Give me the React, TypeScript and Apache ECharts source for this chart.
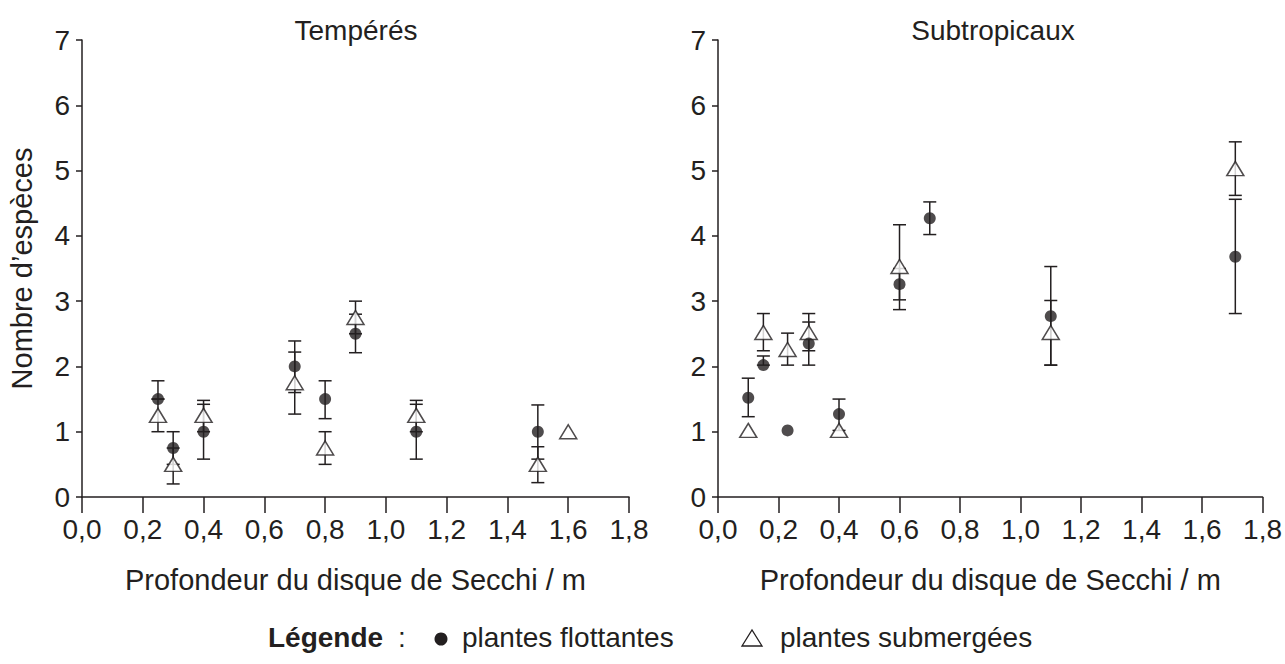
import React, { useEffect, useRef } from "react";
import * as echarts from "echarts";

// ---------- Data ----------
const xTickLabels = ["0,0", "0,2", "0,4", "0,6", "0,8", "1,0", "1,2", "1,4", "1,6", "1,8"];

// Tempérés – plantes flottantes
const tempFloatX = [0.25, 0.3, 0.4, 0.7, 0.8, 0.9, 1.1, 1.5];
const tempFloatY = [1.5, 0.75, 1.0, 2.0, 1.5, 2.5, 1.0, 1.0];
const tempFloatLo = [1.5, 0.5, 0.58, 1.6, 1.2, 2.21, 0.58, 0.58];
const tempFloatHi = [1.78, 1.0, 1.42, 2.39, 1.78, 2.8, 1.42, 1.41];

// Tempérés – plantes submergées
const tempSubX = [0.25, 0.3, 0.4, 0.7, 0.8, 0.9, 1.1, 1.5, 1.6];
const tempSubY = [1.25, 0.5, 1.25, 1.75, 0.75, 2.75, 1.25, 0.5, 1.0];
const tempSubLo = [1.0, 0.2, 1.0, 1.27, 0.5, 2.5, 1.0, 0.22, 1.0];
const tempSubHi = [1.5, 0.75, 1.48, 2.22, 1.0, 3.0, 1.48, 0.77, 1.0];

// Subtropicaux – plantes flottantes
const subFloatX = [0.1, 0.15, 0.23, 0.3, 0.4, 0.6, 0.7, 1.1, 1.71];
const subFloatY = [1.52, 2.02, 1.02, 2.35, 1.27, 3.26, 4.27, 2.77, 3.68];
const subFloatLo = [1.23, 2.02, 1.02, 2.02, 1.02, 3.02, 4.02, 2.02, 2.81];
const subFloatHi = [1.82, 2.16, 1.02, 2.68, 1.5, 3.5, 4.52, 3.53, 4.56];

// Subtropicaux – plantes submergées
const subSubX = [0.1, 0.15, 0.23, 0.3, 0.4, 0.6, 1.1, 1.71];
const subSubY = [1.02, 2.52, 2.26, 2.52, 1.02, 3.53, 2.52, 5.03];
const subSubLo = [1.02, 2.24, 2.02, 2.24, 1.02, 2.87, 2.02, 4.62];
const subSubHi = [1.02, 2.81, 2.51, 2.81, 1.02, 4.17, 3.01, 5.44];

const panelTitles = ["Tempérés", "Subtropicaux"];
const xName = "Profondeur du disque de Secchi / m";
const yName = "Nombre d\u2019espèces";
const legendTitle = "Légende";
const legendLabels = ["plantes flottantes", "plantes submergées"];

// ---------- Styles ----------
const INK = "#231f20";
const FONT = "'Liberation Sans', Arial, Helvetica, sans-serif";
const FS = 28;

const pts = (xs: number[], ys: number[]) => xs.map((x, i) => [x, ys[i]]);
const errs = (xs: number[], lo: number[], hi: number[]) =>
  xs.map((x, i) => [x, lo[i], hi[i]]);

const errorRender = (params: any, api: any) => {
  const x = api.value(0);
  const lo = api.value(1);
  const hi = api.value(2);
  if (lo === hi) return { type: "group", children: [] };
  const pLo = api.coord([x, lo]);
  const pHi = api.coord([x, hi]);
  const hw = 6.5;
  const style = { stroke: INK, lineWidth: 1.5 };
  return {
    type: "group",
    children: [
      { type: "line", shape: { x1: pLo[0], y1: pLo[1], x2: pHi[0], y2: pHi[1] }, style },
      { type: "line", shape: { x1: pLo[0] - hw, y1: pLo[1], x2: pLo[0] + hw, y2: pLo[1] }, style },
      { type: "line", shape: { x1: pHi[0] - hw, y1: pHi[1], x2: pHi[0] + hw, y2: pHi[1] }, style },
    ],
  };
};

export default function App() {
  const ref = useRef<HTMLDivElement>(null);

  useEffect(() => {
    if (!ref.current) return;
    const chart = echarts.init(ref.current, null, { renderer: "svg" });

    const grids = [
      { left: 82, top: 40, width: 547, height: 457 },
      { left: 718, top: 40, width: 550, height: 457 },
    ];

    const xAxisBase = (gi: number) => ({
      gridIndex: gi,
      type: "value",
      min: 0,
      max: 1.8,
      interval: 0.2,
      name: xName,
      nameLocation: "middle",
      nameGap: 68,
      nameTextStyle: { color: INK, fontSize: 29, fontFamily: FONT },
      axisLine: { show: true, onZero: false, lineStyle: { color: INK, width: 1.5 } },
      axisTick: { show: true, inside: false, length: 16, lineStyle: { color: INK, width: 1.5 } },
      axisLabel: {
        color: INK,
        fontSize: FS,
        fontFamily: FONT,
        margin: 18,
        formatter: (v: number) => xTickLabels[Math.round(v / 0.2)] ?? "",
      },
      splitLine: { show: false },
    });

    const yAxisBase = (gi: number, withName: boolean) => ({
      gridIndex: gi,
      type: "value",
      min: 0,
      max: 7,
      interval: 1,
      name: withName ? yName : "",
      nameLocation: "middle",
      nameGap: 46,
      nameTextStyle: { color: INK, fontSize: 29, fontFamily: FONT },
      axisLine: { show: true, onZero: false, lineStyle: { color: INK, width: 1.5 } },
      axisTick: { show: true, inside: false, length: 6, lineStyle: { color: INK, width: 1.5 } },
      axisLabel: { color: INK, fontSize: FS, fontFamily: FONT, margin: 12 },
      splitLine: { show: false },
    });

    const errSeries = (gi: number, data: number[][]) => ({
      type: "custom",
      xAxisIndex: gi,
      yAxisIndex: gi,
      renderItem: errorRender,
      encode: { x: 0, y: [1, 2] },
      data,
      z: 2,
      silent: true,
    });

    const floatSeries = (gi: number, data: number[][]) => ({
      type: "scatter",
      xAxisIndex: gi,
      yAxisIndex: gi,
      symbol: "circle",
      symbolSize: 12,
      itemStyle: { color: INK },
      data,
      z: 4,
    });

    const subSeries = (gi: number, data: number[][]) => ({
      type: "scatter",
      xAxisIndex: gi,
      yAxisIndex: gi,
      symbol: "triangle",
      symbolSize: [17, 14],
      itemStyle: { color: "#ffffff", borderColor: INK, borderWidth: 1.5 },
      data,
      z: 3,
    });

    const legendY = 637;
    const txt = (text: string, x: number, y: number, bold = false, align = "left", size = FS) => ({
      type: "text",
      x,
      y,
      style: {
        text,
        fill: INK,
        font: `${bold ? "bold " : ""}${size}px ${FONT}`,
        align,
        verticalAlign: "middle",
      },
    });

    chart.setOption({
      animation: false,
      backgroundColor: "#ffffff",
      grid: grids,
      xAxis: [xAxisBase(0), xAxisBase(1)],
      yAxis: [yAxisBase(0, true), yAxisBase(1, false)],
      series: [
        errSeries(0, errs(tempFloatX, tempFloatLo, tempFloatHi)),
        errSeries(0, errs(tempSubX, tempSubLo, tempSubHi)),
        subSeries(0, pts(tempSubX, tempSubY)),
        floatSeries(0, pts(tempFloatX, tempFloatY)),
        errSeries(1, errs(subFloatX, subFloatLo, subFloatHi)),
        errSeries(1, errs(subSubX, subSubLo, subSubHi)),
        subSeries(1, pts(subSubX, subSubY)),
        floatSeries(1, pts(subFloatX, subFloatY)),
      ],
      graphic: [
        txt(panelTitles[0], 356, 30, false, "center"),
        txt(panelTitles[1], 993, 30, false, "center"),
        txt(legendTitle, 268, legendY, true),
        txt(":", 398, legendY),
        { type: "circle", shape: { cx: 441, cy: legendY + 2, r: 6.5 }, style: { fill: INK } },
        txt(legendLabels[0], 462, legendY),
        {
          type: "polygon",
          shape: { points: [[742, legendY + 9], [762, legendY + 9], [752, legendY - 7]] },
          style: { fill: "#ffffff", stroke: INK, lineWidth: 1.3 },
        },
        txt(legendLabels[1], 780, legendY),
      ],
    });

    return () => chart.dispose();
  }, []);

  return (
    <div
      ref={ref}
      style={{ position: "absolute", left: 0, top: 0, width: 1285, height: 664, background: "#fff" }}
    />
  );
}
